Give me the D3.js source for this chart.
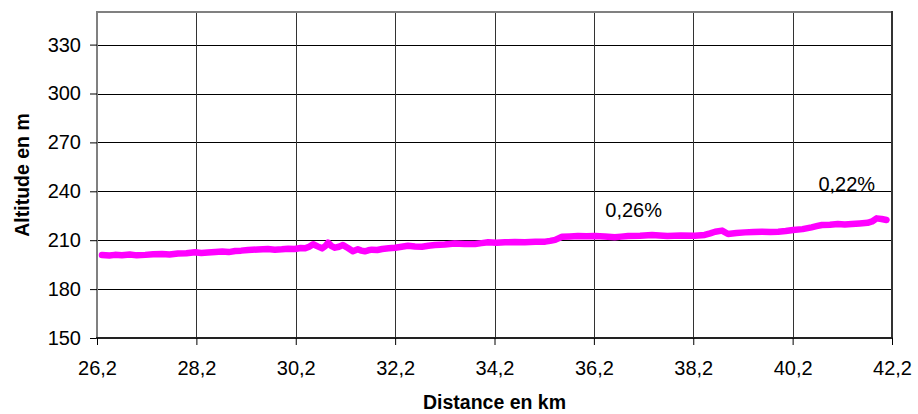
<!DOCTYPE html>
<html><head><meta charset="utf-8">
<script src="https://cdn.jsdelivr.net/npm/d3@7"></script>
<style>body{margin:0;background:#fff}svg{display:block}text{font-family:"Liberation Sans",Arial,sans-serif}</style>
</head><body><svg id="c" width="918" height="414"></svg>
<script>
const distanceKm = [26.30,26.45,26.56,26.70,26.86,27.00,27.17,27.33,27.51,27.66,27.83,28.00,28.17,28.30,28.43,28.58,28.72,28.85,28.98,29.10,29.24,29.44,29.64,29.78,29.92,30.05,30.18,30.30,30.39,30.47,30.55,30.64,30.73,30.80,30.85,30.92,30.99,31.07,31.15,31.25,31.35,31.45,31.52,31.59,31.66,31.73,31.84,31.94,32.07,32.20,32.33,32.46,32.60,32.74,32.87,33.00,33.20,33.40,33.60,33.81,33.94,34.07,34.24,34.41,34.61,34.81,35.02,35.22,35.32,35.42,35.56,35.72,35.88,36.05,36.22,36.42,36.62,36.75,36.89,37.13,37.37,37.52,37.68,37.95,38.23,38.43,38.54,38.64,38.78,38.90,39.07,39.24,39.41,39.58,39.75,39.91,40.06,40.21,40.40,40.58,40.68,40.79,40.95,41.11,41.25,41.39,41.55,41.71,41.80,41.89,41.99,42.09];
const altitudeM = [200.9,200.6,201.0,200.8,201.2,200.7,201.0,201.4,201.5,201.2,201.8,202.0,202.6,202.1,202.4,202.8,203.0,202.7,203.4,203.6,204.0,204.3,204.6,204.2,204.4,204.8,204.6,205.2,205.0,206.0,207.5,206.2,205.0,206.5,208.5,206.4,205.4,206.0,207.0,205.2,203.2,204.4,203.6,203.2,203.8,204.2,204.0,204.6,205.0,205.4,206.0,206.6,206.2,206.0,206.6,207.0,207.4,208.0,207.6,207.7,208.2,208.7,208.4,208.7,208.9,208.8,209.0,209.1,209.6,210.2,212.1,212.3,212.6,212.4,212.6,212.3,211.8,212.2,212.6,212.8,213.2,212.9,212.6,212.9,212.8,213.2,214.2,215.2,215.9,213.8,214.4,214.8,215.0,215.2,215.0,215.2,215.6,216.2,216.8,217.9,218.6,219.3,219.5,219.9,219.6,219.9,220.3,220.7,221.5,223.4,223.0,222.4];
const xTicks = [26.2,28.2,30.2,32.2,34.2,36.2,38.2,40.2,42.2];
const yTicks = [150,180,210,240,270,300,330];
const annotations = [{km:37.0, alt:224.2, text:"0,26%"},{km:41.29, alt:240.2, text:"0,22%"}];

const svg = d3.select("#c");
const L=97, R=892, T=12, B=338;
const x = d3.scaleLinear().domain([26.2,42.2]).range([L,R]);
const y = d3.scaleLinear().domain([150,350]).range([B,T]);
const fmt = d => String(d).replace(".", ",");

// gridlines
svg.append("g").selectAll("line").data(yTicks.filter(d=>d>150)).join("line")
  .attr("x1",L).attr("x2",R).attr("y1",d=>Math.round(y(d))+0.5).attr("y2",d=>Math.round(y(d))+0.5)
  .attr("stroke","#000").attr("stroke-width",1);
svg.append("g").selectAll("line").data(xTicks.slice(1,-1)).join("line")
  .attr("x1",d=>Math.round(x(d))+0.5).attr("x2",d=>Math.round(x(d))+0.5).attr("y1",T).attr("y2",B)
  .attr("stroke","#333").attr("stroke-width",1);

// frame
svg.append("line").attr("x1",L).attr("x2",R).attr("y1",T).attr("y2",T).attr("stroke","#808080").attr("stroke-width",2);
svg.append("line").attr("x1",R).attr("x2",R).attr("y1",T-1).attr("y2",B).attr("stroke","#333").attr("stroke-width",2);

// axes
const yAxis = svg.append("g").attr("transform",`translate(${L},0)`)
  .call(d3.axisLeft(y).tickValues(yTicks).tickFormat(d=>d).tickSize(7).tickPadding(9));
yAxis.select(".domain").attr("stroke","#808080").attr("stroke-width",2).attr("d",`M0,${T-1}V${B}`);
yAxis.selectAll(".tick line").attr("stroke","#000");
yAxis.selectAll("text").attr("font-size",20).attr("fill","#000");

const xAxis = svg.append("g").attr("transform",`translate(0,${B})`)
  .call(d3.axisBottom(x).tickValues(xTicks).tickFormat(fmt).tickSize(7).tickPadding(16));
xAxis.select(".domain").attr("stroke","#222").attr("stroke-width",2).attr("d",`M${L-1},0H${R+1}`);
xAxis.selectAll(".tick line").attr("stroke","#000");
xAxis.selectAll("text").attr("font-size",20).attr("fill","#000");

// line
const line = d3.line().x((d,i)=>x(distanceKm[i])).y(d=>y(d)).curve(d3.curveLinear);
svg.append("path").datum(altitudeM).attr("d",line).attr("fill","none")
  .attr("stroke","#ff00ff").attr("stroke-width",6.5).attr("stroke-linejoin","round").attr("stroke-linecap","round");

// annotations
svg.append("g").selectAll("text").data(annotations).join("text")
  .attr("x",d=>x(d.km)).attr("y",d=>y(d.alt)).attr("text-anchor","middle")
  .attr("font-size",20).attr("fill","#000").text(d=>d.text);

// titles
svg.append("text").attr("x",(L+R)/2).attr("y",409).attr("text-anchor","middle")
  .attr("font-size",19.5).attr("font-weight","bold").text("Distance en km");
svg.append("text").attr("transform",`translate(29,${(T+B)/2}) rotate(-90)`).attr("text-anchor","middle")
  .attr("font-size",19.5).attr("font-weight","bold").text("Altitude en m");
</script></body></html>
